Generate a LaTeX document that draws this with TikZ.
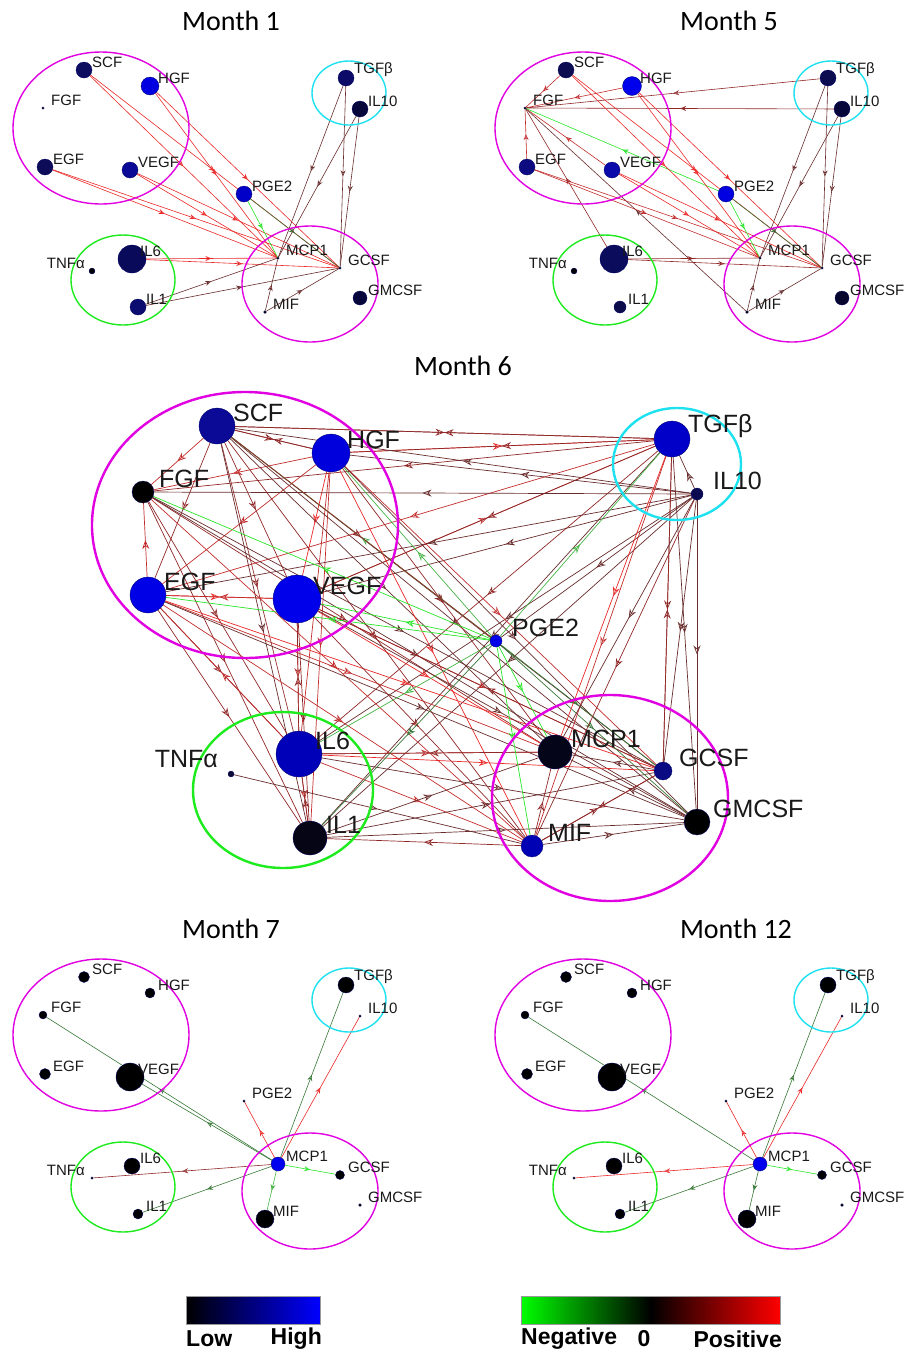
\documentclass[tikz,border=0pt]{standalone}
\usepackage{fontspec}
\setmainfont{Liberation Sans}
\newfontfamily\titlefont{Carlito}
\usetikzlibrary{arrows.meta,decorations.markings}
\pgfdeclarelayer{bg}\pgfdeclarelayer{edges}
\pgfsetlayers{bg,edges,main}
\definecolor{magc}{RGB}{225,0,225}
\definecolor{cyanc}{RGB}{30,225,240}
\definecolor{grnc}{RGB}{30,235,30}
\definecolor{R1}{RGB}{235,40,40}
\definecolor{R2}{RGB}{195,45,45}
\definecolor{R3}{RGB}{145,40,40}
\definecolor{R4}{RGB}{105,45,45}
\definecolor{G1}{RGB}{40,230,40}
\definecolor{G2}{RGB}{70,180,70}
\definecolor{G3}{RGB}{55,120,55}
\definecolor{lbl}{RGB}{25,25,25}
\tikzset{
 dot/.style={circle, inner sep=0pt, draw=black!60!blue, line width=0.3pt},
 lS/.style={anchor=west, xshift=8pt, yshift=8pt, font=\fontsize{15}{15}\selectfont, text=lbl, inner sep=0pt},
 lSl/.style={anchor=east, xshift=-7pt, yshift=8pt, font=\fontsize{15}{15}\selectfont, text=lbl, inner sep=0pt},
 lL/.style={anchor=west, xshift=16pt, yshift=13pt, font=\fontsize{25}{25}\selectfont, text=lbl, inner sep=0pt},
 lLl/.style={anchor=east, xshift=-13pt, yshift=15pt, font=\fontsize{25}{25}\selectfont, text=lbl, inner sep=0pt},
 eS/.style={line width=0.6pt, postaction={decorate}, decoration={markings, mark=at position 0.5 with {\arrow{Stealth[open,length=6pt,width=5pt,inset=2pt]}}}},
 eL/.style={line width=0.7pt, postaction={decorate}, decoration={markings, mark=at position 0.5 with {\arrow{Stealth[open,length=9pt,width=7pt,inset=3pt]}}}},
 ttl/.style={font=\titlefont\fontsize{28}{28}\selectfont, inner sep=0pt},
 ringS/.style={line width=1.4pt},
 ringL/.style={line width=2.4pt},
 leg/.style={font=\bfseries\fontsize{23}{23}\selectfont, inner sep=0pt},
}
\newcommand\nd[7]{\node[dot, minimum size=#4pt, fill=#5] (#1) at (#2,#3) {}; \node[#7] (#1t) at (#1.center) {#6};}
\newcommand\E[4]{\draw[#1,color=#2] (#3) -- (#4);}
\newcommand\smallrings{%
 \draw[ringS, magc] (101,128) ellipse [x radius=88pt, y radius=76pt];
 \draw[ringS, cyanc] (349,93) ellipse [x radius=37pt, y radius=32pt];
 \draw[ringS, grnc] (123,280) ellipse [x radius=52pt, y radius=45pt];
 \draw[ringS, magc] (310,284) ellipse [x radius=68pt, y radius=58pt];
}
\begin{document}
\begin{tikzpicture}[x=1pt,y=-1pt]
\begin{pgfonlayer}{bg}
\fill[white] (0,0) rectangle (908,1353);
\end{pgfonlayer}
\useasboundingbox (0,0) rectangle (908,1353);

% titles
\node[ttl] (t1) at (231,21) {Month 1};
\node[ttl] (t5) at (729,21) {Month 5};
\node[ttl] (t6) at (463,366) {Month 6};
\node[ttl] (t7) at (231,929) {Month 7};
\node[ttl] (t12) at (736,929) {Month 12};

% ===== Month 1 =====
\begin{scope}
\smallrings
\nd{aSCF}{84}{70}{16}{{rgb,255:red,14;green,14;blue,96}}{SCF}{lS}
\nd{aHGF}{150}{86}{18}{{rgb,255:red,0;green,0;blue,225}}{HGF}{lS}
\nd{aFGF}{43}{108}{2.5}{black}{FGF}{lS}
\nd{aEGF}{45}{167}{16}{{rgb,255:red,12;green,12;blue,88}}{EGF}{lS}
\nd{aVEGF}{130}{170}{16}{{rgb,255:red,10;green,10;blue,150}}{VEGF}{lS}
\nd{aTGFb}{346}{78}{16}{{rgb,255:red,12;green,12;blue,104}}{TGFβ}{lS}
\nd{aIL10}{360}{109}{16}{{rgb,255:red,6;green,6;blue,58}}{IL10}{lS}
\nd{aPGE2}{244}{194}{16}{{rgb,255:red,0;green,0;blue,200}}{PGE2}{lS}
\nd{aIL6}{132}{259}{28}{{rgb,255:red,10;green,10;blue,90}}{IL6}{lS}
\nd{aTNFa}{92}{271}{6}{black}{TNFα}{lSl}
\nd{aIL1}{138}{307}{16}{{rgb,255:red,12;green,12;blue,112}}{IL1}{lS}
\nd{aMCP1}{278}{258}{2.5}{black}{MCP1}{lS}
\nd{aGCSF}{340}{268}{2.5}{black}{GCSF}{lS}
\nd{aGMCSF}{360}{298}{14}{{rgb,255:red,6;green,6;blue,58}}{GMCSF}{lS}
\nd{aMIF}{265}{312}{3}{black}{MIF}{lS}
\end{scope}
\begin{pgfonlayer}{edges}
\E{eS}{R1}{aSCF}{aMCP1}\E{eS}{R1}{aSCF}{aGCSF}
\E{eS}{R1}{aHGF}{aMCP1}\E{eS}{R1}{aHGF}{aGCSF}
\E{eS}{R1}{aEGF}{aMCP1}\E{eS}{R1}{aEGF}{aGCSF}
\E{eS}{R1}{aVEGF}{aMCP1}\E{eS}{R1}{aVEGF}{aGCSF}
\E{eS}{R1}{aIL6}{aMCP1}\E{eS}{R1}{aIL6}{aGCSF}
\E{eS}{G1}{aPGE2}{aMCP1}\E{eS}{G3}{aPGE2}{aGCSF}
\E{eS}{R4}{aTGFb}{aMCP1}\E{eS}{R4}{aTGFb}{aGCSF}
\E{eS}{R4}{aIL10}{aMCP1}\E{eS}{R4}{aIL10}{aGCSF}
\E{eS}{R4}{aIL1}{aMCP1}\E{eS}{R4}{aIL1}{aGCSF}
\E{eS}{R4}{aMIF}{aMCP1}\E{eS}{R4}{aMIF}{aGCSF}
\end{pgfonlayer}

% ===== Month 5 =====
\begin{scope}[shift={(482,0)}]
\smallrings
\nd{bSCF}{84}{70}{16}{{rgb,255:red,12;green,12;blue,80}}{SCF}{lS}
\nd{bHGF}{150}{86}{19}{{rgb,255:red,0;green,0;blue,235}}{HGF}{lS}
\nd{bFGF}{43}{108}{2.5}{black}{FGF}{lS}
\nd{bEGF}{45}{167}{16}{{rgb,255:red,12;green,12;blue,128}}{EGF}{lS}
\nd{bVEGF}{130}{170}{16}{{rgb,255:red,10;green,10;blue,170}}{VEGF}{lS}
\nd{bTGFb}{346}{78}{16}{{rgb,255:red,12;green,12;blue,80}}{TGFβ}{lS}
\nd{bIL10}{360}{109}{16}{{rgb,255:red,6;green,6;blue,58}}{IL10}{lS}
\nd{bPGE2}{244}{194}{16}{{rgb,255:red,0;green,0;blue,225}}{PGE2}{lS}
\nd{bIL6}{132}{259}{28}{{rgb,255:red,12;green,12;blue,92}}{IL6}{lS}
\nd{bTNFa}{92}{271}{6}{black}{TNFα}{lSl}
\nd{bIL1}{138}{307}{12}{{rgb,255:red,12;green,12;blue,74}}{IL1}{lS}
\nd{bMCP1}{278}{258}{2.5}{black}{MCP1}{lS}
\nd{bGCSF}{340}{268}{2.5}{black}{GCSF}{lS}
\nd{bGMCSF}{360}{298}{14}{{rgb,255:red,5;green,5;blue,46}}{GMCSF}{lS}
\nd{bMIF}{265}{312}{3}{black}{MIF}{lS}
\end{scope}
\begin{pgfonlayer}{edges}
\E{eS}{R2}{bSCF}{bFGF}\E{eS}{R2}{bHGF}{bFGF}\E{eS}{R2}{bEGF}{bFGF}\E{eS}{R2}{bVEGF}{bFGF}
\E{eS}{R3}{bTGFb}{bFGF}\E{eS}{R3}{bIL10}{bFGF}\E{eS}{R3}{bIL6}{bFGF}\E{eS}{R4}{bMIF}{bFGF}
\E{eS}{G1}{bPGE2}{bFGF}
\E{eS}{R1}{bSCF}{bMCP1}\E{eS}{R1}{bSCF}{bGCSF}
\E{eS}{R1}{bHGF}{bMCP1}\E{eS}{R1}{bHGF}{bGCSF}
\E{eS}{R2}{bEGF}{bMCP1}\E{eS}{R2}{bEGF}{bGCSF}
\E{eS}{R1}{bVEGF}{bMCP1}\E{eS}{R1}{bVEGF}{bGCSF}
\E{eS}{R3}{bIL6}{bMCP1}\E{eS}{R3}{bIL6}{bGCSF}
\E{eS}{G1}{bPGE2}{bMCP1}\E{eS}{G3}{bPGE2}{bGCSF}
\E{eS}{R4}{bTGFb}{bMCP1}\E{eS}{R4}{bTGFb}{bGCSF}
\E{eS}{R4}{bIL10}{bMCP1}\E{eS}{R4}{bIL10}{bGCSF}
\E{eS}{R4}{bMIF}{bMCP1}\E{eS}{R4}{bMIF}{bGCSF}
\end{pgfonlayer}

% ===== Month 6 =====
\draw[ringL, magc] (245,525) ellipse [x radius=153pt, y radius=133pt];
\draw[ringL, cyanc] (677,464) ellipse [x radius=64pt, y radius=56pt];
\draw[ringL, grnc] (283,790) ellipse [x radius=90pt, y radius=78pt];
\draw[ringL, magc] (610,798) ellipse [x radius=118pt, y radius=103pt];
\nd{cSCF}{217}{426}{36}{{rgb,255:red,10;green,10;blue,150}}{SCF}{lL}
\nd{cHGF}{331}{453}{38}{{rgb,255:red,0;green,0;blue,220}}{HGF}{lL}
\nd{cFGF}{143}{492}{22}{black}{FGF}{lL}
\nd{cEGF}{148}{595}{36}{{rgb,255:red,0;green,0;blue,230}}{EGF}{lL}
\nd{cVEGF}{297}{599}{48}{{rgb,255:red,0;green,0;blue,235}}{VEGF}{lL}
\nd{cTGFb}{672}{439}{36}{{rgb,255:red,0;green,0;blue,200}}{TGFβ}{lL}
\nd{cIL10}{697}{494}{12}{{rgb,255:red,10;green,10;blue,80}}{IL10}{lL}
\nd{cPGE2}{496}{641}{12}{{rgb,255:red,0;green,0;blue,235}}{PGE2}{lL}
\nd{cIL6}{299}{754}{46}{{rgb,255:red,0;green,0;blue,185}}{IL6}{lL}
\nd{cTNFa}{231}{774}{6}{{rgb,255:red,10;green,10;blue,50}}{TNFα}{lLl}
\nd{cIL1}{310}{838}{34}{{rgb,255:red,5;green,5;blue,22}}{IL1}{lL}
\nd{cMCP1}{555}{752}{34}{{rgb,255:red,5;green,5;blue,25}}{MCP1}{lL}
\nd{cGCSF}{663}{771}{18}{{rgb,255:red,10;green,10;blue,130}}{GCSF}{lL}
\nd{cGMCSF}{697}{822}{26}{black}{GMCSF}{lL}
\nd{cMIF}{532}{846}{22}{{rgb,255:red,0;green,0;blue,180}}{MIF}{lL}
\begin{pgfonlayer}{edges}
% upper-left internal
\E{eL}{R2}{cSCF}{cFGF}\E{eL}{R3}{cSCF}{cEGF}\E{eL}{R3}{cSCF}{cVEGF}
\E{eL}{R3}{cSCF}{cHGF}\E{eL}{R3}{cHGF}{cSCF}
\E{eL}{R2}{cHGF}{cFGF}\E{eL}{R2}{cHGF}{cEGF}\E{eL}{R1}{cHGF}{cVEGF}
\E{eL}{R2}{cEGF}{cFGF}\E{eL}{R1}{cEGF}{cVEGF}\E{eL}{R2}{cVEGF}{cEGF}
% to TGFb / IL10
\E{eL}{R3}{cSCF}{cTGFb}\E{eL}{R3}{cTGFb}{cSCF}
\E{eL}{R1}{cHGF}{cTGFb}\E{eL}{R3}{cTGFb}{cHGF}
\E{eL}{R3}{cTGFb}{cFGF}\E{eL}{R2}{cTGFb}{cEGF}
\E{eL}{R2}{cVEGF}{cTGFb}\E{eL}{R3}{cTGFb}{cVEGF}
\E{eL}{R4}{cIL10}{cSCF}\E{eL}{R4}{cIL10}{cHGF}\E{eL}{R4}{cIL10}{cFGF}
\E{eL}{R4}{cIL10}{cEGF}\E{eL}{R4}{cIL10}{cVEGF}\E{eL}{R4}{cIL10}{cTGFb}
% to IL6 / IL1
\E{eL}{R3}{cSCF}{cIL6}\E{eL}{R4}{cSCF}{cIL1}
\E{eL}{R2}{cHGF}{cIL6}\E{eL}{R2}{cHGF}{cIL1}
\E{eL}{R3}{cFGF}{cIL6}\E{eL}{R3}{cFGF}{cIL1}
\E{eL}{R3}{cEGF}{cIL6}\E{eL}{R2}{cIL6}{cEGF}\E{eL}{R3}{cEGF}{cIL1}
\E{eL}{R2}{cVEGF}{cIL6}\E{eL}{R3}{cIL6}{cVEGF}\E{eL}{R3}{cVEGF}{cIL1}
\E{eL}{R3}{cTGFb}{cIL6}\E{eL}{R4}{cTGFb}{cIL1}
\E{eL}{R4}{cIL10}{cIL6}\E{eL}{R4}{cIL10}{cIL1}
\E{eL}{R2}{cIL6}{cIL1}\E{eL}{R3}{cIL1}{cIL6}
% upper-left to lower-right group
\E{eL}{R4}{cSCF}{cMCP1}\E{eL}{R4}{cSCF}{cGCSF}\E{eL}{R4}{cSCF}{cGMCSF}\E{eL}{R3}{cSCF}{cMIF}
\E{eL}{R3}{cHGF}{cMCP1}\E{eL}{R2}{cHGF}{cGCSF}\E{eL}{R4}{cHGF}{cGMCSF}\E{eL}{R1}{cHGF}{cMIF}
\E{eL}{R3}{cFGF}{cMCP1}\E{eL}{R4}{cFGF}{cGCSF}\E{eL}{R4}{cFGF}{cGMCSF}\E{eL}{R2}{cFGF}{cMIF}
\E{eL}{R2}{cEGF}{cMCP1}\E{eL}{R1}{cEGF}{cGCSF}\E{eL}{R4}{cEGF}{cGMCSF}\E{eL}{R2}{cEGF}{cMIF}
\E{eL}{R1}{cVEGF}{cMCP1}\E{eL}{R2}{cVEGF}{cGCSF}\E{eL}{R4}{cVEGF}{cGMCSF}\E{eL}{R3}{cVEGF}{cMIF}
\E{eL}{R3}{cGCSF}{cVEGF}
% IL6 / IL1 / TNFa
\E{eL}{R2}{cIL6}{cMCP1}\E{eL}{R1}{cIL6}{cGCSF}\E{eL}{R4}{cIL6}{cGMCSF}\E{eL}{R2}{cIL6}{cMIF}
\E{eL}{R3}{cMCP1}{cIL6}
\E{eL}{R4}{cIL1}{cMCP1}\E{eL}{R4}{cIL1}{cGCSF}\E{eL}{R4}{cIL1}{cGMCSF}\E{eL}{R3}{cMIF}{cIL1}
\E{eL}{R4}{cTNFa}{cMIF}
% PGE2
\E{eL}{G2}{cPGE2}{cSCF}\E{eL}{G2}{cPGE2}{cHGF}\E{eL}{G1}{cPGE2}{cFGF}
\E{eL}{G1}{cPGE2}{cEGF}\E{eL}{G1}{cPGE2}{cVEGF}\E{eL}{G2}{cPGE2}{cIL6}
\E{eL}{G3}{cPGE2}{cIL1}\E{eL}{G1}{cPGE2}{cMCP1}\E{eL}{G1}{cPGE2}{cMIF}
\E{eL}{G3}{cPGE2}{cGCSF}\E{eL}{G3}{cPGE2}{cGMCSF}\E{eL}{G2}{cPGE2}{cTGFb}
\E{eL}{R4}{cIL10}{cPGE2}\E{eL}{R3}{cSCF}{cPGE2}
% TGFb / IL10 to lower right
\E{eL}{R1}{cTGFb}{cMCP1}\E{eL}{R2}{cTGFb}{cMIF}\E{eL}{R3}{cTGFb}{cGCSF}\E{eL}{R3}{cGCSF}{cTGFb}
\E{eL}{R4}{cTGFb}{cGMCSF}
\E{eL}{R4}{cIL10}{cMCP1}\E{eL}{R4}{cIL10}{cGCSF}\E{eL}{R4}{cIL10}{cGMCSF}\E{eL}{R3}{cIL10}{cMIF}
% lower right internal
\E{eL}{R4}{cGCSF}{cMCP1}\E{eL}{R4}{cGMCSF}{cMCP1}\E{eL}{R3}{cMIF}{cMCP1}
\E{eL}{R3}{cGCSF}{cMIF}\E{eL}{R3}{cMIF}{cGCSF}\E{eL}{R4}{cMIF}{cGMCSF}
\end{pgfonlayer}

% ===== Month 7 =====
\begin{scope}[shift={(0,907)}]
\smallrings
\nd{dSCF}{84}{70}{11}{black}{SCF}{lS}
\nd{dHGF}{150}{86}{10}{black}{HGF}{lS}
\nd{dFGF}{43}{108}{8}{black}{FGF}{lS}
\nd{dEGF}{45}{167}{11}{black}{EGF}{lS}
\nd{dVEGF}{130}{170}{28}{black}{VEGF}{lS}
\nd{dTGFb}{346}{78}{16}{black}{TGFβ}{lS}
\nd{dIL10}{360}{109}{2.5}{black}{IL10}{lS}
\nd{dPGE2}{244}{194}{2.5}{black}{PGE2}{lS}
\nd{dIL6}{132}{259}{16}{black}{IL6}{lS}
\nd{dTNFa}{92}{271}{2.5}{black}{TNFα}{lSl}
\nd{dIL1}{138}{307}{10}{black}{IL1}{lS}
\nd{dMCP1}{278}{257}{14}{{rgb,255:red,0;green,0;blue,238}}{MCP1}{lS}
\nd{dGCSF}{340}{268}{9}{black}{GCSF}{lS}
\nd{dGMCSF}{360}{298}{3}{black}{GMCSF}{lS}
\nd{dMIF}{265}{312}{18}{black}{MIF}{lS}
\end{scope}
\begin{pgfonlayer}{edges}
\E{eS}{G3}{dMCP1}{dFGF}\E{eS}{G3}{dMCP1}{dVEGF}\E{eS}{G3}{dMCP1}{dTGFb}
\E{eS}{R1}{dMCP1}{dIL10}\E{eS}{R1}{dMCP1}{dPGE2}\E{eS}{R3}{dMCP1}{dTNFa}
\E{eS}{G3}{dMCP1}{dIL1}\E{eS}{G1}{dMCP1}{dGCSF}\E{eS}{G2}{dMCP1}{dMIF}
\end{pgfonlayer}

% ===== Month 12 =====
\begin{scope}[shift={(482,907)}]
\smallrings
\nd{eSCF}{84}{70}{11}{black}{SCF}{lS}
\nd{eHGF}{150}{86}{10}{black}{HGF}{lS}
\nd{eFGF}{43}{108}{8}{black}{FGF}{lS}
\nd{eEGF}{45}{167}{11}{black}{EGF}{lS}
\nd{eVEGF}{130}{170}{28}{black}{VEGF}{lS}
\nd{eTGFb}{346}{78}{16}{black}{TGFβ}{lS}
\nd{eIL10}{360}{109}{2.5}{black}{IL10}{lS}
\nd{ePGE2}{244}{194}{2.5}{black}{PGE2}{lS}
\nd{eIL6}{132}{259}{16}{black}{IL6}{lS}
\nd{eTNFa}{92}{271}{2.5}{black}{TNFα}{lSl}
\nd{eIL1}{138}{307}{10}{black}{IL1}{lS}
\nd{eMCP1}{278}{257}{14}{{rgb,255:red,0;green,0;blue,238}}{MCP1}{lS}
\nd{eGCSF}{340}{268}{9}{black}{GCSF}{lS}
\nd{eGMCSF}{360}{298}{3}{black}{GMCSF}{lS}
\nd{eMIF}{265}{312}{18}{black}{MIF}{lS}
\end{scope}
\begin{pgfonlayer}{edges}
\E{eS}{G3}{eMCP1}{eFGF}\E{eS}{G3}{eMCP1}{eTGFb}
\E{eS}{R1}{eMCP1}{eIL10}\E{eS}{R1}{eMCP1}{ePGE2}\E{eS}{R1}{eMCP1}{eTNFa}
\E{eS}{G3}{eMCP1}{eIL1}\E{eS}{G1}{eMCP1}{eGCSF}\E{eS}{G3}{eMCP1}{eMIF}
\end{pgfonlayer}

% ===== legends =====
\shade[left color=black, right color=blue, draw=black!40, line width=0.4pt] (186,1296) rectangle (320,1324);
\shade[left color=green, right color=red, middle color=black, draw=black!40, line width=0.4pt] (521,1296) rectangle (780,1324);
\node[leg, anchor=west] (lLow) at (186,1339) {Low};
\node[leg, anchor=east] (lHigh) at (322,1339) {High};
\node[leg, anchor=west] (lNeg) at (521,1339) {Negative};
\node[leg] (lZero) at (644,1339) {0};
\node[leg, anchor=east] (lPos) at (782,1339) {Positive};
\end{tikzpicture}
\end{document}
